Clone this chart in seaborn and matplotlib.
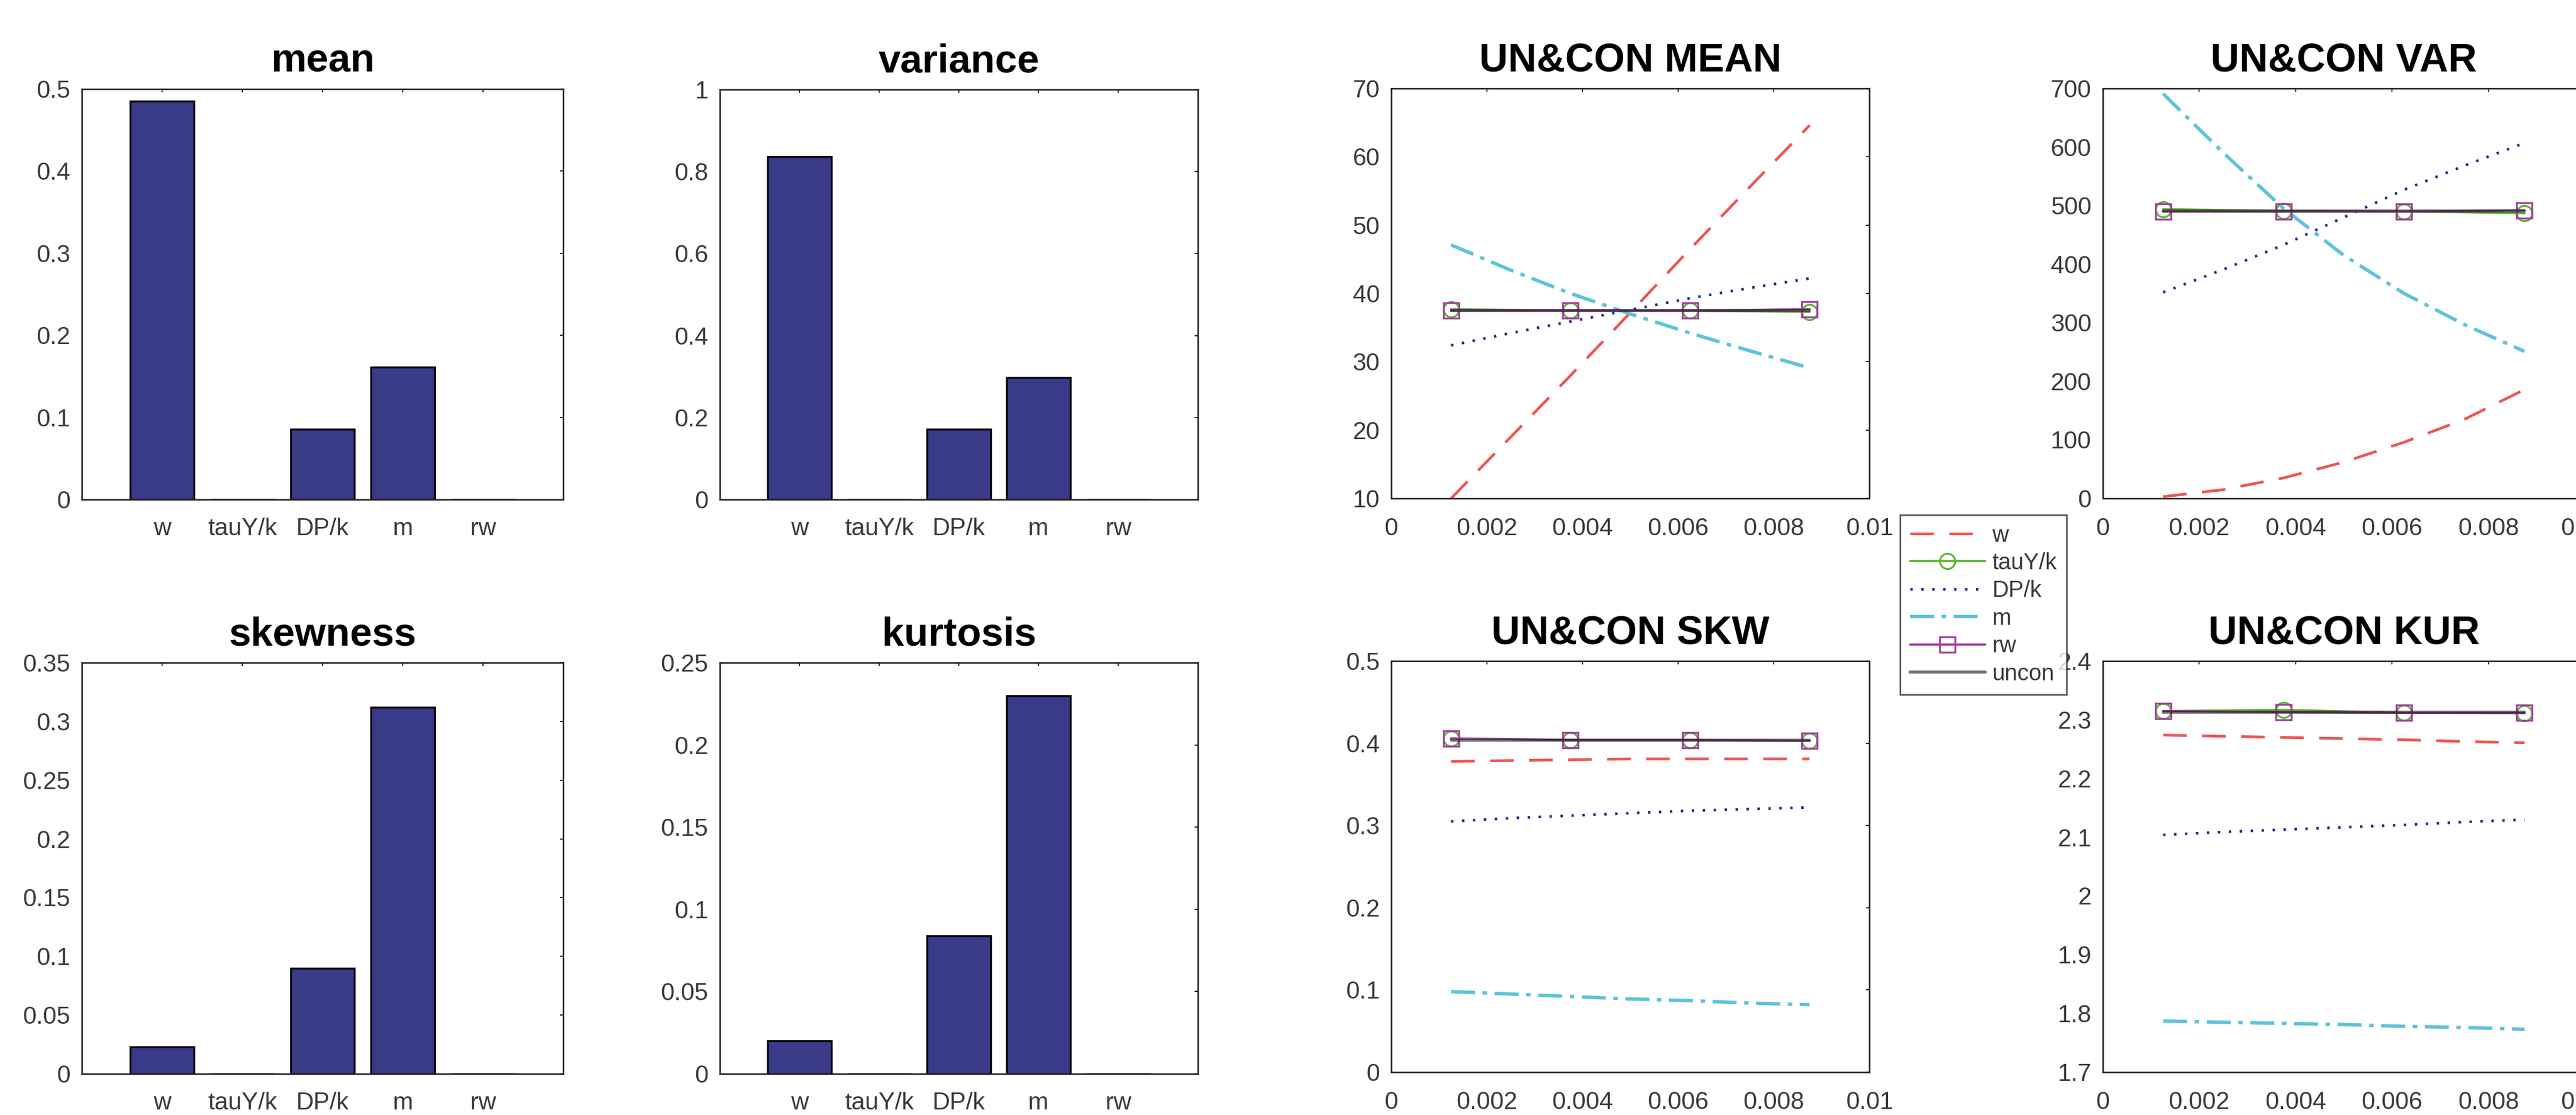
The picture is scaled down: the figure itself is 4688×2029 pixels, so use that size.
import numpy as np
import seaborn as sns
import matplotlib.pyplot as plt
from matplotlib.ticker import FuncFormatter

# bar panel data
categories = ['w', 'tauY/k', 'DP/k', 'm', 'rw']
bar_mean = [0.485, 0.0, 0.086, 0.161, 0.0]
bar_variance = [0.837, 0.0, 0.172, 0.298, 0.0]
bar_skewness = [0.023, 0.0, 0.090, 0.312, 0.0]
bar_kurtosis = [0.020, 0.0, 0.084, 0.230, 0.0]

# line panel data
x_fine = [0.00125, 0.0025, 0.00375, 0.005, 0.00625, 0.0075, 0.00875]
x_mark = [0.00125, 0.00375, 0.00625, 0.00875]

mean_w = [10.0, 19.0, 28.0, 37.2, 46.5, 55.6, 64.6]
mean_dpk = [32.4, 34.2, 35.9, 37.6, 39.3, 40.8, 42.2]
mean_m = [47.1, 43.4, 40.0, 37.0, 34.2, 31.6, 29.1]
mean_tauyk = [37.7, 37.5, 37.5, 37.3]
mean_rw = [37.5, 37.5, 37.5, 37.7]
mean_uncon = [37.5, 37.5, 37.5, 37.5]

var_w = [3, 15, 35, 62, 96, 135, 186]
var_dpk = [352, 391, 433, 480, 527, 568, 607]
var_m = [691, 590, 495, 415, 350, 297, 251]
var_tauyk = [494, 491, 490, 487]
var_rw = [490, 490, 490, 492]
var_uncon = [491, 491, 491, 491]

skw_w = [0.378, 0.379, 0.380, 0.381, 0.381, 0.381, 0.381]
skw_dpk = [0.305, 0.309, 0.312, 0.315, 0.318, 0.320, 0.322]
skw_m = [0.098, 0.095, 0.092, 0.089, 0.087, 0.084, 0.082]
skw_tauyk = [0.406, 0.404, 0.404, 0.403]
skw_rw = [0.406, 0.404, 0.404, 0.403]
skw_uncon = [0.404, 0.404, 0.404, 0.404]

kur_w = [2.274, 2.272, 2.270, 2.268, 2.266, 2.263, 2.261]
kur_dpk = [2.104, 2.109, 2.113, 2.117, 2.121, 2.126, 2.130]
kur_m = [1.787, 1.785, 1.783, 1.781, 1.778, 1.776, 1.773]
kur_tauyk = [2.315, 2.317, 2.312, 2.311]
kur_rw = [2.315, 2.313, 2.312, 2.312]
kur_uncon = [2.313, 2.313, 2.313, 2.313]

W, H = 4688, 2029
sns.set_theme(style='white')
plt.rcParams['font.family'] = ['Liberation Sans', 'DejaVu Sans']

fig = plt.figure(figsize=(W / 100, H / 100), dpi=100)
fig.patch.set_facecolor('white')

AX_COL = '#262626'
LBL_COL = '#3a3a3a'
BAR_COL = '#393a8a'


def make_axes(x0, x1, y0, y1):
    return fig.add_axes([x0 / W, 1 - y1 / H, (x1 - x0) / W, (y1 - y0) / H])


def gfmt(v, pos):
    return '%g' % round(v, 6)


def style_axes(ax, title, yticks, xpad=22):
    for s in ax.spines.values():
        s.set_visible(True)
        s.set_color(AX_COL)
        s.set_linewidth(2.0)
    ax.set_facecolor('white')
    ax.tick_params(direction='in', length=4, width=1.5, color=AX_COL,
                   top=True, right=True, labelsize=32, labelcolor=LBL_COL)
    ax.tick_params(axis='y', pad=15)
    ax.tick_params(axis='x', pad=xpad)
    ax.set_yticks(yticks)
    ax.set_ylim(yticks[0], yticks[-1])
    ax.yaxis.set_major_formatter(FuncFormatter(gfmt))
    ax.set_title(title, fontsize=52, fontweight='bold', color='black', pad=23)
    ax.set_xlabel('')
    ax.set_ylabel('')


bar_panels = [
    ('mean', bar_mean, (149, 1025, 162, 909), np.arange(0, 0.51, 0.1)),
    ('variance', bar_variance, (1310, 2180, 163, 909), np.arange(0, 1.01, 0.2)),
    ('skewness', bar_skewness, (149, 1025, 1206, 1954), np.arange(0, 0.351, 0.05)),
    ('kurtosis', bar_kurtosis, (1310, 2180, 1206, 1954), np.arange(0, 0.251, 0.05)),
]

for title, vals, box, yt in bar_panels:
    ax = make_axes(*box)
    sns.barplot(x=categories, y=vals, ax=ax, color=BAR_COL, saturation=1,
                edgecolor='black', linewidth=2.5, width=0.8)
    ax.set_xlim(-1, 5)
    style_axes(ax, title, yt, xpad=24)

# line styles: color, lw, linestyle, marker
styles = {
    'w': dict(color='#ee5555', lw=3.6, ls=(0, (8.6, 5.6))),
    'tauY/k': dict(color='#5cb82c', lw=2.8, ls='-', marker='o'),
    'DP/k': dict(color='#1f2a8c', lw=3.5, ls=(0, (0.9, 3.2))),
    'm': dict(color='#5ec3da', lw=4.5, ls=(0, (7, 2.2, 1.3, 2.2))),
    'rw': dict(color='#a23fa2', lw=2.8, ls='-', marker='s'),
    'uncon': dict(color='#1a1a1a', lw=4.0, ls='-', alpha=0.6),
}

line_panels = [
    ('UN&CON MEAN', (2532, 3402, 161, 907), np.arange(10, 70.1, 10),
     [mean_w, mean_tauyk, mean_dpk, mean_m, mean_rw, mean_uncon]),
    ('UN&CON VAR', (3827, 4704, 161, 907), np.arange(0, 700.1, 100),
     [var_w, var_tauyk, var_dpk, var_m, var_rw, var_uncon]),
    ('UN&CON SKW', (2532, 3402, 1203, 1951), np.round(np.arange(0, 0.51, 0.1), 2),
     [skw_w, skw_tauyk, skw_dpk, skw_m, skw_rw, skw_uncon]),
    ('UN&CON KUR', (3827, 4704, 1203, 1951), np.round(np.arange(1.7, 2.41, 0.1), 2),
     [kur_w, kur_tauyk, kur_dpk, kur_m, kur_rw, kur_uncon]),
]

names = ['w', 'tauY/k', 'DP/k', 'm', 'rw', 'uncon']
legend_ax = None
for title, box, yt, series in line_panels:
    ax = make_axes(*box)
    for name, vals in zip(names, series):
        st = styles[name]
        xs = x_fine if len(vals) == len(x_fine) else x_mark
        kw = dict(color=st['color'], lw=st['lw'], linestyle=st['ls'],
                  alpha=st.get('alpha', 1.0))
        if 'marker' in st:
            kw.update(marker=st['marker'], markersize=20, markerfacecolor='none',
                      markeredgecolor=st['color'], markeredgewidth=2.5)
        sns.lineplot(x=xs, y=vals, ax=ax, label=name, **kw)
    if ax.get_legend() is not None:
        ax.get_legend().remove()
    ax.set_xlim(0, 0.01)
    ax.set_xticks(np.round(np.arange(0, 0.0101, 0.002), 4))
    ax.xaxis.set_major_formatter(FuncFormatter(gfmt))
    style_axes(ax, title, yt, xpad=25)
    if legend_ax is None:
        legend_ax = ax

handles, labels = legend_ax.get_legend_handles_labels()
leg = fig.legend(handles, labels, loc='upper left',
                 bbox_to_anchor=(3458 / W, 1 - 937 / H), borderaxespad=0,
                 fontsize=30, frameon=True, fancybox=False, handlelength=3.3,
                 handletextpad=0.3, labelspacing=0.25, borderpad=0.42)
leg.get_frame().set_edgecolor(AX_COL)
leg.get_frame().set_linewidth(2.0)
for t in leg.get_texts():
    t.set_color(LBL_COL)

fig.savefig('out.png', dpi=100, facecolor='white')
